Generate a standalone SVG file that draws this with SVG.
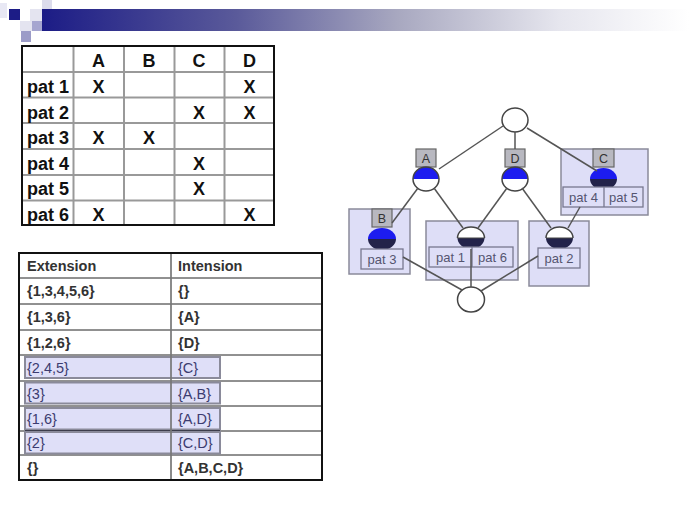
<svg xmlns="http://www.w3.org/2000/svg" width="689" height="517" viewBox="0 0 689 517">
<defs>
<linearGradient id="bar" x1="0" y1="0" x2="1" y2="0">
<stop offset="0" stop-color="#1c1c86"/>
<stop offset="0.3" stop-color="#5a5a9a"/>
<stop offset="0.55" stop-color="#a8a8c0"/>
<stop offset="0.8" stop-color="#e6e6ee"/>
<stop offset="1" stop-color="#ffffff"/>
</linearGradient>
<style>
.t1{font-family:"Liberation Sans",Arial,sans-serif;font-weight:bold;font-size:18px;fill:#111}
.t2{font-family:"Liberation Sans",Arial,sans-serif;font-weight:bold;font-size:14.5px;fill:#333}
.t3{font-family:"Liberation Sans",Arial,sans-serif;font-size:14.5px;fill:#3c3c70}
.g{stroke:#999;stroke-width:2;fill:none}
.hl{fill:#dcdcf7;stroke:#8a8a9a;stroke-width:2;fill-opacity:0.9}
.box{fill:#dedef7;stroke:#8a8a9a;stroke-width:1.5}
.lab{fill:#b8b8c0;stroke:#666;stroke-width:1.2}
.labt{font-family:"Liberation Sans",Arial,sans-serif;font-size:12.5px;fill:#333;text-anchor:middle}
.pat{fill:#dedef7;stroke:#777790;stroke-width:1.3}
.patt{font-family:"Liberation Sans",Arial,sans-serif;font-size:13px;fill:#555570;text-anchor:middle}
.circ{fill:none;stroke:#444;stroke-width:1.5}
.blue{fill:#1c1cf0}
.dark{fill:#23234a}
.white{fill:#ffffff}
.edge{stroke:#555;stroke-width:1.5;fill:none}
</style>
</defs>
<rect width="689" height="517" fill="#fff"/>
<g id="header">
<rect x="42" y="9" width="647" height="22" fill="url(#bar)"/>
<rect x="0" y="3" width="7" height="15" fill="#e8e8f4"/>
<rect x="42" y="0" width="10" height="9" fill="#dcdcec"/>
<rect x="9" y="9" width="11" height="11" fill="#1c1c86"/>
<rect x="30" y="9" width="12" height="12" fill="#e4e4f0"/>
<rect x="20" y="21" width="12" height="10" fill="#e4e4f0"/>
<rect x="32" y="21" width="10" height="10" fill="#a6a6d0"/>
<rect x="21" y="31" width="10" height="11" fill="#9c9cc8"/>
</g>
<g id="context-table">
<g class="g">
<line x1="22" y1="72" x2="274" y2="72"/>
<line x1="22" y1="97.5" x2="274" y2="97.5"/>
<line x1="22" y1="123" x2="274" y2="123"/>
<line x1="22" y1="149" x2="274" y2="149"/>
<line x1="22" y1="175" x2="274" y2="175"/>
<line x1="22" y1="200.5" x2="274" y2="200.5"/>
<line x1="73.5" y1="46" x2="73.5" y2="225"/>
<line x1="124" y1="46" x2="124" y2="225"/>
<line x1="174.5" y1="46" x2="174.5" y2="225"/>
<line x1="224.5" y1="46" x2="224.5" y2="225"/>
</g>
<rect x="22" y="46" width="252" height="179" fill="none" stroke="#111" stroke-width="2"/>
<g class="t1" text-anchor="middle">
<text x="98.5" y="67">A</text>
<text x="149" y="67">B</text>
<text x="199" y="67">C</text>
<text x="249.5" y="67">D</text>
</g>
<g class="t1">
<text x="27" y="93">pat 1</text>
<text x="27" y="118.5">pat 2</text>
<text x="27" y="144">pat 3</text>
<text x="27" y="169.5">pat 4</text>
<text x="27" y="195">pat 5</text>
<text x="27" y="220.5">pat 6</text>
</g>
<g class="t1" text-anchor="middle">
<text x="98.5" y="93">X</text><text x="249.5" y="93">X</text>
<text x="199" y="118.5">X</text><text x="249.5" y="118.5">X</text>
<text x="98.5" y="144">X</text><text x="149" y="144">X</text>
<text x="199" y="169.5">X</text>
<text x="199" y="195">X</text>
<text x="98.5" y="220.5">X</text><text x="249.5" y="220.5">X</text>
</g>
</g>
<g id="concept-table">
<g stroke="#222" stroke-width="1">
<line x1="19" y1="278" x2="322" y2="278"/>
<line x1="19" y1="304" x2="322" y2="304"/>
<line x1="19" y1="330" x2="322" y2="330"/>
<line x1="19" y1="355" x2="322" y2="355"/>
<line x1="19" y1="381" x2="322" y2="381"/>
<line x1="19" y1="406" x2="322" y2="406"/>
<line x1="19" y1="431" x2="322" y2="431"/>
<line x1="19" y1="455" x2="322" y2="455"/>
</g>
<rect class="hl" x="25" y="357" width="195" height="21"/>
<rect class="hl" x="25" y="382.5" width="195" height="21"/>
<rect class="hl" x="25" y="408" width="195" height="21.5"/>
<line x1="25" y1="431" x2="220" y2="431" stroke="#223" stroke-width="1.5"/>
<rect class="hl" x="25" y="432" width="195" height="21.5"/>
<line x1="171" y1="253" x2="171" y2="480" stroke="#777" stroke-width="2" stroke-opacity="0.85"/>
<rect x="19" y="253" width="303" height="227" fill="none" stroke="#111" stroke-width="2"/>
<g class="t2">
<text x="27" y="271">Extension</text><text x="178" y="271">Intension</text>
<text x="27" y="296">{1,3,4,5,6}</text><text x="178" y="296">{}</text>
<text x="27" y="322">{1,3,6}</text><text x="178" y="322">{A}</text>
<text x="27" y="347.5">{1,2,6}</text><text x="178" y="347.5">{D}</text>
<text x="27" y="472.5">{}</text><text x="178" y="472.5">{A,B,C,D}</text>
</g>
<g class="t3">
<text x="27" y="373">{2,4,5}</text><text x="178" y="373">{C}</text>
<text x="27" y="398.5">{3}</text><text x="178" y="398.5">{A,B}</text>
<text x="27" y="423.5">{1,6}</text><text x="178" y="423.5">{A,D}</text>
<text x="27" y="448">{2}</text><text x="178" y="448">{C,D}</text>
</g>
</g>
<g id="lattice">
<g id="node-top">
<ellipse class="white" cx="515" cy="120" rx="13" ry="12"/>
<ellipse class="circ" cx="515" cy="120" rx="13" ry="12"/>
</g>
<g id="node-A">
<rect class="lab" x="416" y="149" width="20" height="18"/>
<text class="labt" x="426" y="162.5">A</text>
<path class="blue" d="M413,179 A13,12 0 0 1 439,179 Z"/>
<path class="white" d="M413,179 A13,12 0 0 0 439,179 Z"/>
<ellipse class="circ" cx="426" cy="179" rx="13" ry="12"/>
</g>
<g id="node-D">
<rect class="lab" x="505" y="149" width="20" height="18"/>
<text class="labt" x="515" y="162.5">D</text>
<path class="blue" d="M502,179 A13,12 0 0 1 528,179 Z"/>
<path class="white" d="M502,179 A13,12 0 0 0 528,179 Z"/>
<ellipse class="circ" cx="515" cy="179" rx="13" ry="12"/>
</g>
<g id="node-C">
<rect class="box" x="561" y="149" width="87" height="66"/>
<rect class="lab" x="593" y="149" width="21" height="18" fill="#b8b8d0"/>
<text class="labt" x="603.5" y="162.5">C</text>
<path class="blue" d="M590,179 A13.5,11 0 0 1 617,179 Z"/>
<path class="dark" d="M590,179 A13.5,11 0 0 0 617,179 Z"/>
<rect class="pat" x="563" y="187" width="80" height="20"/>
<line x1="604" y1="187" x2="604" y2="207" stroke="#777790" stroke-width="1.3"/>
<text class="patt" x="583.5" y="202">pat 4</text>
<text class="patt" x="623.5" y="202">pat 5</text>
</g>
<g id="node-B">
<rect class="box" x="349" y="209" width="61" height="65"/>
<rect class="lab" x="372" y="209" width="20" height="18" fill="#b8b8d0"/>
<text class="labt" x="382" y="222.5">B</text>
<path class="blue" d="M368,239 A14,11 0 0 1 396,239 Z"/>
<path class="dark" d="M368,239 A14,11 0 0 0 396,239 Z"/>
<rect class="pat" x="361" y="249" width="42" height="20"/>
<text class="patt" x="382" y="264">pat 3</text>
</g>
<g id="node-AD">
<rect class="box" x="426" y="221" width="92" height="59"/>
<path class="white" d="M457.5,238 A13.5,11 0 0 1 484.5,238 Z"/>
<path class="dark" d="M457.5,238 A13.5,11 0 0 0 484.5,238 Z"/>
<path class="circ" d="M457.5,238 A13.5,11 0 0 1 484.5,238"/>
<line x1="457.5" y1="238" x2="484.5" y2="238" stroke="#444" stroke-width="1"/>
<rect class="pat" x="429" y="247" width="84" height="20"/>
<line x1="472" y1="247" x2="472" y2="267" stroke="#777790" stroke-width="1.3"/>
<text class="patt" x="450.5" y="262">pat 1</text>
<text class="patt" x="492.5" y="262">pat 6</text>
</g>
<g id="node-CD">
<rect class="box" x="529" y="221" width="60" height="65"/>
<path class="white" d="M546,238 A13.5,11 0 0 1 573,238 Z"/>
<path class="dark" d="M546,238 A13.5,11 0 0 0 573,238 Z"/>
<path class="circ" d="M546,238 A13.5,11 0 0 1 573,238"/>
<line x1="546" y1="238" x2="573" y2="238" stroke="#444" stroke-width="1"/>
<rect class="pat" x="538" y="248" width="42" height="20"/>
<text class="patt" x="559" y="263">pat 2</text>
</g>
<g id="node-bottom">
<ellipse class="white" cx="471" cy="299.5" rx="13.5" ry="12.5"/>
<ellipse class="circ" cx="471" cy="299.5" rx="13.5" ry="12.5"/>
</g>
<g id="connectors" class="edge">
<line x1="503" y1="126" x2="439" y2="169"/>
<line x1="515" y1="132" x2="515" y2="149"/>
<line x1="527" y1="128" x2="597" y2="171"/>
<line x1="418" y1="188" x2="392" y2="223"/>
<line x1="434" y1="188" x2="463" y2="228"/>
<line x1="507" y1="188" x2="478" y2="228"/>
<line x1="522" y1="188" x2="551" y2="228"/>
<line x1="580" y1="207" x2="568" y2="228"/>
<line x1="403" y1="257" x2="462" y2="290"/>
<line x1="471" y1="249" x2="471" y2="287"/>
<line x1="538" y1="256" x2="481" y2="291"/>
</g>
</g>
</svg>
